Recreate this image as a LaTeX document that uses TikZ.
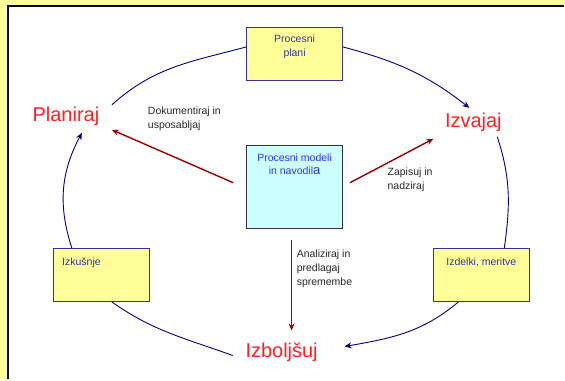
\documentclass[tikz,border=0pt]{standalone}
\usepackage{fontspec}
\setmainfont{Liberation Sans}
\usepackage{xcolor}
\usetikzlibrary{positioning,arrows.meta}
\definecolor{bgyellow}{HTML}{FFFF99}
\definecolor{boxcyan}{HTML}{CCFFFF}
\definecolor{cyclenavy}{HTML}{000080}
\definecolor{boxblue}{HTML}{333399}
\definecolor{actred}{HTML}{990000}
\definecolor{modelblue}{HTML}{3333FF}
\definecolor{phasered}{HTML}{FF2020}

\begin{document}
\begin{tikzpicture}[x=1pt, y=1pt, >={Stealth[length=7pt,width=6pt]},
  box/.style={draw=boxblue, fill=bgyellow, line width=0.8pt, minimum width=96pt, minimum height=53pt},
  boxtext/.style={text=boxblue, font=\fontsize{10.5}{13.5}\selectfont, align=center, inner sep=0pt},
  phase/.style={text=phasered, font=\fontsize{20}{24}\selectfont, inner sep=0pt},
  act/.style={text=black!85, font=\fontsize{10.5}{14}\selectfont, align=left, anchor=west, inner sep=0pt},
  cycle/.style={cyclenavy, line width=0.9pt},
  flow/.style={->, actred, line width=1.4pt}]
  % page
  \fill[bgyellow] (0,0) rectangle (565,380);
  \fill[white] (7,0) rectangle (565,375);
  \draw[black, line width=1.6pt] (8,0) -- (8,374.2) -- (565,374.2);

  \node[box] (plani) at (295,326) {};
  \node[box, fill=boxcyan, draw=black!80, minimum height=83pt] (modeli) at (295,192.5) {};
  \node[box] (izkusnje) at (101.5,104.5) {};
  \node[box] (izdelki) at (482,104.5) {};

  \node[boxtext, anchor=north, below=8pt of plani.north] (planitxt) {Procesni\\plani};
  \node[boxtext, text=modelblue, anchor=north, below=8pt of modeli.north] (modelitxt) {Procesni modeli\\in navodil{\fontsize{13}{13.5}\selectfont a}};
  \node[boxtext, anchor=north west] (izkusnjetxt) at ([shift={(9,-9)}]izkusnje.north west) {Izkušnje};
  \node[boxtext, anchor=north, below=9pt of izdelki.north] (izdelkitxt) {Izdelki, meritve};

  \node[phase] (plan) at (66,263) {Planiraj};
  \node[phase] (izv) at (474,257) {Izvajaj};
  \node[phase] (izb) at (282,27) {Izboljšuj};

  \node[act] (dok) at (148,261) {Dokumentiraj in\\usposabljaj};
  \node[act] (zap) at (388,199.5) {Zapisuj in\\nadziraj};
  \node[act] (ana) at (297,111) {Analiziraj in\\predlagaj\\spremembe};

  \draw[cycle] ([shift={(46,12)}]plan.center) to[out=42, in=195] ([yshift=7]plani.west);
  \draw[cycle, ->] ([yshift=7]plani.east) to[out=-15, in=142] ([shift={(-4,15)}]izv.center);
  \draw[cycle] ([shift={(24,-14)}]izv.center) to[out=-72, in=82] ([xshift=23]izdelki.north);
  \draw[cycle, ->] ([xshift=-23]izdelki.south) to[out=-140, in=10] ([shift={(63,6)}]izb.center);
  \draw[cycle] ([shift={(-49,-3)}]izb.center) to[out=160, in=-35] ([xshift=10.5]izkusnje.south);
  \draw[cycle, ->] ([xshift=-29.5]izkusnje.north) to[out=108, in=-118] ([shift={(16,-16)}]plan.center);

  \draw[flow] ([shift={(-13,4.5)}]modeli.west) -- ([shift={(46,-13)}]plan.center);
  \draw[flow] ([shift={(7,4.5)}]modeli.east) -- ([shift={(-40,-16)}]izv.center);
  \draw[flow] ([shift={(-3,-11)}]modeli.south) -- ([shift={(10,22)}]izb.center);
  \useasboundingbox (0,0) rectangle (565,380);
\end{tikzpicture}
\end{document}
